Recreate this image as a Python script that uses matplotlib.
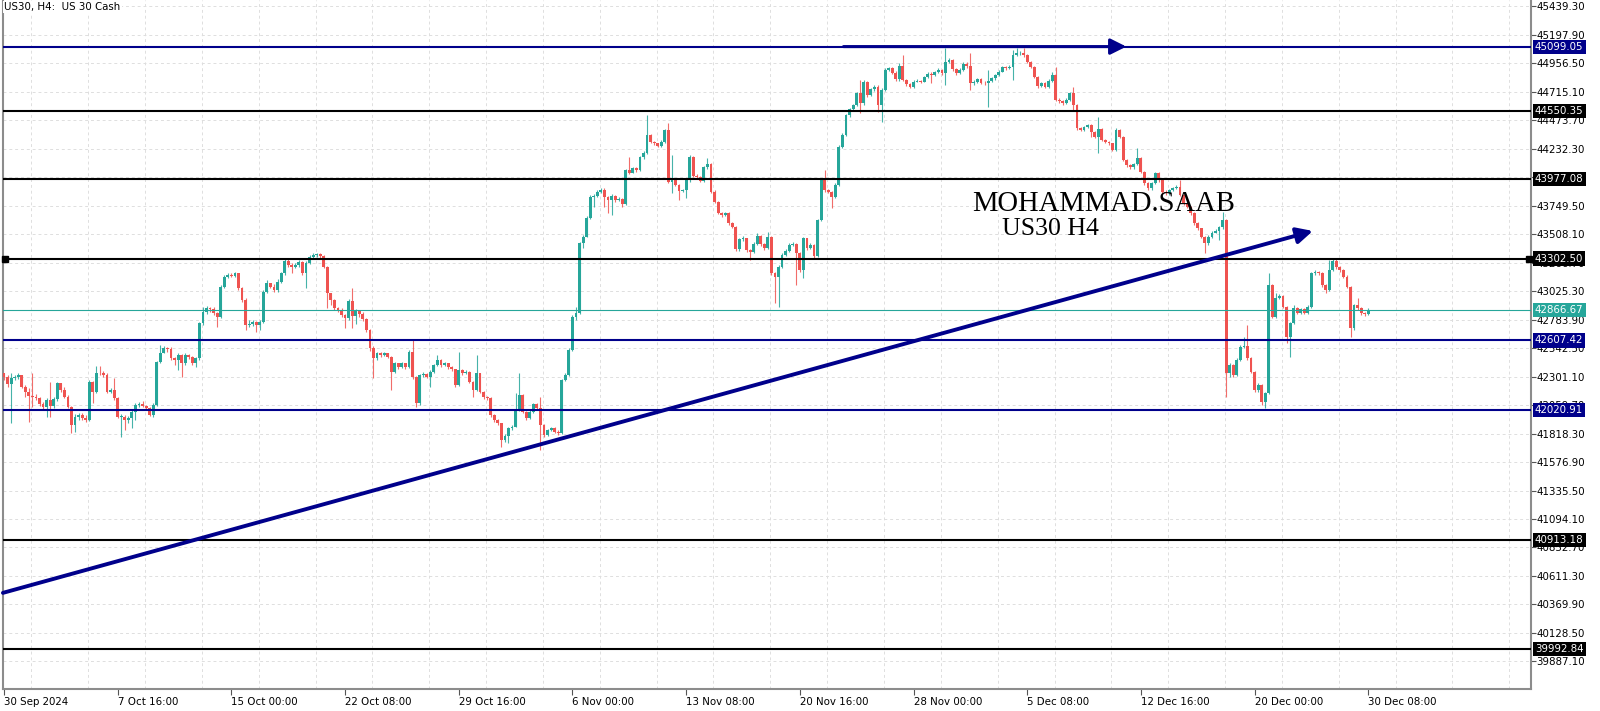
import numpy as np
import matplotlib
matplotlib.use("Agg")
import matplotlib.pyplot as plt
from matplotlib import transforms

# --- US30 H4 candles, 30 Sep 2024 -> 30 Dec 2024 08:00 ---
first_open = 42330
close = [
    42301, 42239, 42287, 42296, 42316, 42217, 42174, 42137, 42132, 42118,
    42070, 42047, 42104, 42053, 42109, 42245, 42188, 42132, 42047, 41892,
    41962, 41976, 41948, 41934, 42259, 42174, 42335, 42330, 42316, 42174,
    42188, 42118, 41962, 41962, 41934, 41948, 42005, 42061, 42070, 42053,
    42033, 41976, 42061, 42429, 42505, 42542, 42533, 42457, 42443, 42485,
    42415, 42485, 42465, 42415, 42457, 42754, 42852, 42881, 42872, 42838,
    42810, 43064, 43149, 43163, 43155, 43177, 43050, 42951, 42739, 42748,
    42768, 42739, 42768, 43022, 43093, 43064, 43036, 43107, 43177, 43285,
    43248, 43234, 43248, 43276, 43177, 43268, 43319, 43333, 43341, 43324,
    43234, 43008, 42951, 42881, 42867, 42824, 42796, 42946, 42815, 42860,
    42830, 42790, 42696, 42540, 42455, 42498, 42485, 42498, 42470, 42343,
    42413, 42385, 42413, 42385, 42512, 42300, 42074, 42314, 42323, 42300,
    42343, 42399, 42442, 42399, 42413, 42385, 42363, 42230, 42357, 42329,
    42343, 42258, 42188, 42329, 42174, 42131, 42117, 41976, 41933, 41905,
    41764, 41800, 41862, 41877, 42018, 42145, 42004, 41947, 42004, 42069,
    42032, 41891, 41806, 41848, 41862, 41834, 41820, 42272, 42315, 42526,
    42809, 42838, 43431, 43487, 43643, 43826, 43834, 43869, 43883, 43826,
    43798, 43835, 43798, 43810, 43764, 44053, 44030, 44067, 44053, 44160,
    44200, 44349, 44293, 44279, 44256, 44293, 44392, 43954, 43968, 43926,
    43878, 43883, 43968, 44166, 44002, 43991, 43962, 44075, 44104, 43869,
    43784, 43691, 43671, 43686, 43606, 43572, 43380, 43465, 43474, 43375,
    43360, 43426, 43493, 43426, 43389, 43482, 43177, 43143, 43233, 43332,
    43369, 43417, 43426, 43346, 43205, 43474, 43389, 43417, 43324, 43629,
    43968, 43883, 43869, 43827, 43926, 44251, 44350, 44519, 44567, 44604,
    44703, 44618, 44802, 44689, 44737, 44759, 44604, 44731, 44901, 44915,
    44878, 44822, 44935, 44816, 44779, 44759, 44802, 44810, 44802, 44839,
    44867, 44861, 44881, 44901, 44872, 44971, 44985, 44906, 44872, 44901,
    44952, 44935, 44788, 44802, 44822, 44793, 44788, 44810, 44830, 44858,
    44887, 44923, 44915, 44929, 45028, 45042, 45048, 45028, 44971, 44929,
    44844, 44765, 44787, 44759, 44810, 44858, 44646, 44635, 44624, 44646,
    44703, 44604, 44406, 44392, 44415, 44434, 44378, 44335, 44398, 44307,
    44293, 44279, 44222, 44392, 44335, 44138, 44095, 44075, 44104, 44152,
    44039, 43940, 43897, 43945, 44030, 43968, 43869, 43855, 43883, 43897,
    43912, 43841, 43770, 43742, 43686, 43601, 43558, 43488, 43431, 43488,
    43522, 43539, 43567, 43629, 42329, 42400, 42315, 42442, 42555, 42561,
    42456, 42343, 42188, 42230, 42089, 42160, 43078, 42809, 42965, 42985,
    42894, 42640, 42753, 42880, 42843, 42872, 42843, 42894, 43177, 43191,
    43177, 43078, 43036, 43205, 43284, 43228, 43205, 43149, 43064, 42711,
    42908, 42880, 42838, 42832, 42866.67,
]
high = [
    42335, 42316, 42335, 42316, 42330, 42316, 42231, 42203, 42330, 42155,
    42132, 42090, 42118, 42259, 42132, 42259, 42250, 42217, 42146, 42053,
    41985, 41996, 41990, 41976, 42273, 42267, 42392, 42392, 42352, 42330,
    42203, 42287, 42132, 41985, 41976, 41968, 42019, 42075, 42090, 42098,
    42061, 42042, 42075, 42437, 42570, 42561, 42556, 42556, 42471, 42499,
    42494, 42499, 42494, 42477, 42471, 42768, 42895, 42901, 42895, 42889,
    42852, 43079, 43163, 43177, 43183, 43189, 43177, 43064, 42965, 42782,
    42782, 42776, 42782, 43036, 43121, 43098, 43087, 43127, 43192, 43305,
    43296, 43262, 43268, 43290, 43285, 43285, 43333, 43347, 43353, 43347,
    43333, 43240, 43014, 42958, 42895, 42881, 42833, 42958, 43050, 42875,
    42870, 42845, 42800, 42705, 42560, 42510, 42510, 42512, 42505, 42480,
    42425, 42420, 42425, 42420, 42525, 42611, 42310, 42325, 42340, 42335,
    42355, 42410, 42484, 42450, 42425, 42420, 42395, 42370, 42512, 42365,
    42355, 42350, 42265, 42484, 42335, 42180, 42140, 42125, 41985, 41945,
    41910, 41815, 41875, 41890, 42159, 42329, 42150, 42010, 42015, 42080,
    42075, 42131, 41900, 41860, 41875, 41870, 41845, 42285, 42330, 42540,
    42820, 42894, 43445, 43500, 43660, 43840, 43850, 43880, 43897, 43897,
    43835, 43850, 43845, 43820, 43815, 44065, 44166, 44080, 44075, 44170,
    44210, 44519, 44355, 44300, 44285, 44305, 44400, 44448, 44180, 43975,
    43930, 43895, 43980, 44180, 44175, 44015, 44000, 44090, 44152, 44110,
    43880, 43790, 43700, 43700, 43695, 43615, 43580, 43480, 43490, 43480,
    43385, 43440, 43516, 43500, 43435, 43530, 43490, 43185, 43245, 43345,
    43380, 43430, 43440, 43435, 43355, 43485, 43480, 43430, 43425, 43640,
    43980, 44053, 43895, 43875, 43940, 44265, 44365, 44530, 44580, 44615,
    44715, 44816, 44815, 44810, 44750, 44770, 44770, 44745, 44915, 44930,
    44925, 44890, 44957, 45028, 44825, 44790, 44815, 44825, 44820, 44850,
    44880, 44880, 44895, 44915, 44910, 45084, 45000, 44995, 44915, 44915,
    44965, 44965, 45042, 44815, 44835, 44830, 44805, 44901, 44845, 44870,
    44900, 44935, 44935, 44940, 45070, 45084, 45062, 45084, 45035, 44980,
    44935, 44850, 44800, 44795, 44825, 44886, 44929, 44660, 44645, 44660,
    44715, 44759, 44610, 44420, 44425, 44445, 44445, 44385, 44505, 44405,
    44315, 44300, 44285, 44406, 44400, 44345, 44145, 44105, 44115, 44237,
    44160, 44045, 43950, 43955, 44040, 44040, 43975, 43880, 43895, 43910,
    43925, 43968, 43850, 43780, 43750, 43695, 43610, 43565, 43495, 43500,
    43535, 43550, 43580, 43700, 43640, 42415, 42410, 42455, 42570, 42640,
    42739, 42465, 42350, 42245, 42240, 42175, 43177, 43085, 43007, 43000,
    42995, 42900, 42765, 42908, 42890, 42885, 42880, 42905, 43190, 43205,
    43200, 43185, 43085, 43290, 43304, 43295, 43235, 43215, 43160, 43070,
    42920, 42965, 42890, 42850, 42880,
]
low = [
    42273, 42217, 41911, 42273, 42279, 42203, 42132, 41920, 42047, 42104,
    42053, 42019, 41962, 41962, 42033, 42098, 42174, 42118, 42033, 41821,
    41835, 41934, 41934, 41920, 41928, 42075, 42160, 42316, 42301, 42160,
    42160, 42104, 41948, 41793, 41849, 41911, 41863, 41934, 42047, 42042,
    42019, 41968, 41962, 42053, 42415, 42499, 42513, 42443, 42400, 42358,
    42301, 42400, 42448, 42400, 42386, 42443, 42739, 42833, 42852, 42824,
    42720, 42796, 43050, 43135, 43143, 43143, 43036, 42937, 42697, 42725,
    42731, 42683, 42697, 42754, 43008, 43050, 43022, 43022, 43093, 43163,
    43234, 43177, 43220, 43228, 43163, 43050, 43256, 43305, 43319, 43305,
    43220, 42881, 42909, 42867, 42852, 42810, 42711, 42782, 42711, 42750,
    42810, 42775, 42680, 42520, 42286, 42440, 42470, 42475, 42455, 42188,
    42330, 42370, 42375, 42370, 42375, 42285, 42046, 42060, 42300, 42290,
    42216, 42330, 42390, 42385, 42390, 42370, 42350, 42215, 42220, 42315,
    42320, 42245, 42131, 42180, 42160, 42115, 42100, 41960, 41920, 41890,
    41707, 41750, 41735, 41850, 41870, 42010, 41990, 41930, 41940, 41995,
    42020, 41679, 41790, 41800, 41840, 41825, 41810, 41815, 42260, 42305,
    42515, 42781, 42830, 43389, 43487, 43635, 43742, 43820, 43855, 43742,
    43685, 43671, 43785, 43790, 43742, 43755, 44020, 44025, 44040, 44045,
    44150, 44190, 44280, 44265, 44245, 44250, 44280, 43940, 43855, 43915,
    43798, 43870, 43812, 43950, 43990, 43975, 43950, 43955, 44065, 43855,
    43770, 43680, 43655, 43660, 43590, 43560, 43370, 43370, 43455, 43360,
    43290, 43350, 43420, 43410, 43375, 43380, 43160, 42922, 42894, 43225,
    43320, 43360, 43405, 43078, 43190, 43134, 43375, 43380, 43310, 43315,
    43620, 43870, 43855, 43728, 43815, 43915, 44240, 44340, 44505, 44555,
    44595, 44533, 44605, 44675, 44680, 44725, 44547, 44463, 44720, 44890,
    44865, 44810, 44810, 44805, 44765, 44745, 44750, 44795, 44790, 44795,
    44830, 44788, 44850, 44875, 44860, 44773, 44960, 44895, 44860, 44865,
    44890, 44920, 44731, 44775, 44790, 44780, 44775, 44590, 44800, 44820,
    44850, 44880, 44900, 44905, 44816, 45020, 45030, 45015, 44960, 44915,
    44830, 44750, 44755, 44745, 44750, 44800, 44635, 44620, 44604, 44610,
    44635, 44562, 44395, 44380, 44385, 44405, 44335, 44320, 44194, 44295,
    44280, 44265, 44210, 44215, 44320, 44125, 44080, 44060, 44065, 44095,
    44025, 43925, 43880, 43885, 43935, 43955, 43855, 43840, 43845, 43875,
    43890, 43830, 43755, 43730, 43675, 43590, 43545, 43475, 43346, 43420,
    43480, 43515, 43459, 43555, 42131, 42300, 42300, 42305, 42430, 42540,
    42445, 42330, 42175, 42175, 42061, 42033, 42150, 42795, 42800, 42955,
    42880, 42583, 42470, 42745, 42830, 42835, 42830, 42835, 42885, 43165,
    43165, 43065, 43007, 43025, 43195, 43215, 43190, 43135, 43050, 42640,
    42700, 42865, 42825, 42815, 42825,
]

date_labels = ["30 Sep 2024", "7 Oct 16:00", "15 Oct 00:00", "22 Oct 08:00",
               "29 Oct 16:00", "6 Nov 00:00", "13 Nov 08:00", "20 Nov 16:00",
               "28 Nov 00:00", "5 Dec 08:00", "12 Dec 16:00", "20 Dec 00:00",
               "30 Dec 08:00"]
bars_per_label = 32

# horizontal levels drawn on the chart
level_prices = [45099.05, 44550.35, 43977.08, 43302.50, 42607.42, 42020.91, 40913.18, 39992.84]
level_kinds = ["blue", "black", "black", "black", "blue", "blue", "black", "black"]
last_price = 42866.67

# price scale
price_top_tick = 45439.30
price_step = 241.40
n_price_ticks = 24

# trend line (bar index, price) and the arrow along the top
trend_from = (-0.3, 40468)
trend_to = (368.4, 43536)
top_arrow_from = (236.3, 45099.05)
top_arrow_to = (315.9, 45099.05)

teal = "#26a69a"
red = "#ef5350"
navy = "#00008b"
grey = "#8c8c8c"

fig = plt.figure(figsize=(16, 7.11), dpi=100)
ax = fig.add_axes([3 / 1600, 22 / 711, 1528 / 1600, 689 / 711])
ax.set_xlim(-0.28, 429.8)
ax.set_ylim(39653, 45494)

# grid
yt = [price_top_tick - k * price_step for k in range(n_price_ticks)]
for y in yt:
    ax.axhline(y, color="#dedede", lw=0.7, ls=(0, (3, 3)), zorder=0)
for gx in np.arange(7.7, 430, 16):
    ax.axvline(gx, color="#dedede", lw=0.7, ls=(0, (3, 3)), zorder=0)

# candles
n = len(close)
idx = np.arange(n)
c = np.array(close, dtype=float)
o = np.array([first_open] + close[:-1], dtype=float)
h = np.maximum(np.array(high, dtype=float), np.maximum(o, c))
lo = np.minimum(np.array(low, dtype=float), np.minimum(o, c))
cols = np.where(c >= o, teal, red)
ax.vlines(idx, lo, h, colors=cols, lw=0.8, alpha=0.85, zorder=2)
body_lo = np.minimum(o, c)
body_h = np.maximum(np.abs(c - o), 4)
ax.bar(idx, body_h, bottom=body_lo, width=0.8, color=cols, lw=0, zorder=3)

# levels
for p, kind in zip(level_prices, level_kinds):
    ax.axhline(p, color=navy if kind == "blue" else "black", lw=1.5, zorder=4)
ax.axhline(last_price, color=teal, lw=0.8, zorder=4)

# handles on the 43302.50 line
hx = transforms.blended_transform_factory(ax.transAxes, ax.transData)
ax.plot([0.001, 0.9985], [43302.50, 43302.50], "s", ms=4.6, color="black",
        transform=hx, clip_on=False, zorder=6)

# trend line and arrows
ax.annotate("", xy=trend_to, xytext=trend_from,
            arrowprops=dict(arrowstyle="-|>,head_length=0.8,head_width=0.4",
                            color=navy, lw=2.8, shrinkA=0, shrinkB=0,
                            mutation_scale=12), zorder=7)
ax.annotate("", xy=top_arrow_to, xytext=top_arrow_from,
            arrowprops=dict(arrowstyle="-|>,head_length=0.8,head_width=0.4",
                            color=navy, lw=2.2, shrinkA=0, shrinkB=0,
                            mutation_scale=12), zorder=7)

# watermark text
ax.text(272.6, 43705, "MOHAMMAD.SAAB", family="Liberation Serif", fontsize=20.6,
        color="black", va="baseline", ha="left", zorder=8)
ax.text(281.0, 43502, "US30 H4", family="Liberation Serif", fontsize=18.6,
        color="black", va="baseline", ha="left", zorder=8)

# title
ax.text(0.0008, 0.997, "US30, H4:  US 30 Cash", transform=ax.transAxes,
        fontsize=7.4, va="top", ha="left", color="black",
        bbox=dict(boxstyle="square,pad=0.1", fc="white", ec="none"), zorder=9)

# axes styling
for side in ["left", "right", "bottom"]:
    ax.spines[side].set_color(grey)
    ax.spines[side].set_linewidth(1.5)
ax.spines["top"].set_visible(False)

ax.yaxis.tick_right()
ax.set_yticks(yt)
ax.set_yticklabels(["%.2f" % v for v in yt])
ax.tick_params(axis="y", length=3.5, width=0.8, color="#555555", pad=0.5,
               labelsize=7.4, labelcolor="black")

ax.set_xticks([k * bars_per_label for k in range(len(date_labels))])
ax.set_xticklabels(date_labels)
ax.tick_params(axis="x", length=4, width=0.8, color="#555555", pad=1.5,
               labelsize=7.4, labelcolor="black")
for lbl in ax.get_xticklabels():
    lbl.set_ha("left")

# price boxes on the right scale (drawn over the scale labels, as in the terminal)
for p, kind in zip(level_prices, level_kinds):
    ax.text(1.0026, p, "%.2f" % p, transform=hx, fontsize=7.4, color="white",
            va="center", ha="left", clip_on=False, zorder=10,
            bbox=dict(boxstyle="square,pad=0.2", fc=navy if kind == "blue" else "black", ec="none"))
ax.text(1.0026, last_price, "%.2f" % last_price, transform=hx, fontsize=7.4, color="white",
        va="center", ha="left", clip_on=False, zorder=10,
        bbox=dict(boxstyle="square,pad=0.2", fc=teal, ec="none"))

fig.savefig("out.png", dpi=100)
